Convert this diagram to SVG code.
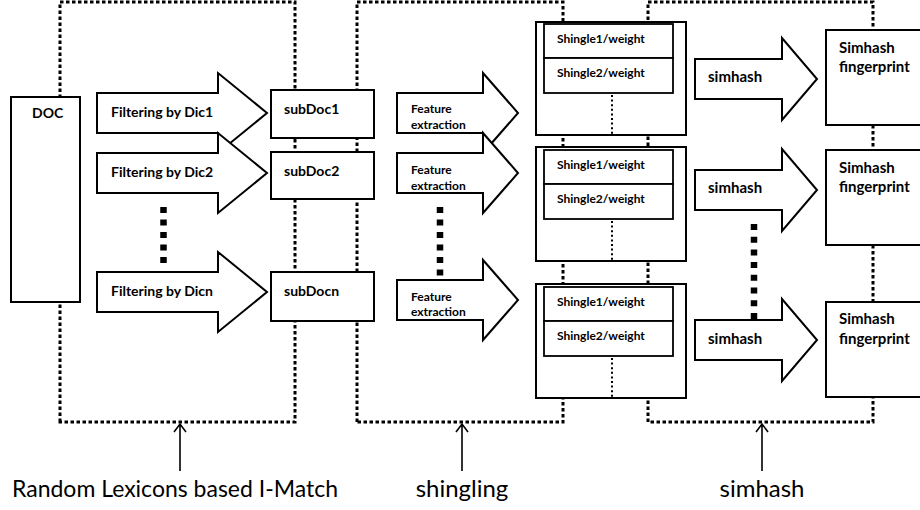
<svg xmlns="http://www.w3.org/2000/svg" width="920" height="510" viewBox="0 0 920 510">
<style>
  .frame{fill:none;stroke:#000;stroke-width:3;stroke-dasharray:3.5 2.5}
  .box{fill:#fff;stroke:#000;stroke-width:2}
  .inner{fill:#fff;stroke:#000;stroke-width:1.8}
  .arr{fill:#fff;stroke:#000;stroke-width:2;stroke-linejoin:miter}
  .idots{fill:none;stroke:#000;stroke-width:2;stroke-dasharray:2 2.6}
  .bigdots{fill:none;stroke:#000;stroke-width:6.5}
  .t{font-family:Lato,"Liberation Sans",sans-serif;font-weight:bold;fill:#000}
  .t14{font-size:14px}
  .t12{font-size:12px}
  .t15{font-size:15px}
  .lbl{font-family:Lato,"Liberation Sans",sans-serif;font-size:24px;fill:#000;text-anchor:middle}
  .conn{fill:none;stroke:#000;stroke-width:1.6}
</style>

<g id="frames">
  <path class="frame" d="M60,422 V2 H295 V422 Z"/>
  <path class="frame" d="M357,422 V2 H563 V422 Z"/>
  <path class="frame" d="M648,422 V2 H873 V422 Z"/>
</g>

<g id="doc">
  <rect class="box" x="11" y="97" width="69" height="205"/>
  <text class="t t14" x="32" y="118">DOC</text>
</g>

<g id="filter1">
  <polygon class="arr" points="97,93 218,93 218,73 267,113 218,153 218,133 97,133"/>
  <text class="t t14" x="111" y="116.5">Filtering by Dic1</text>
</g>
<g id="filter2">
  <polygon class="arr" points="97,153 218,153 218,133 267,173 218,213 218,193 97,193"/>
  <text class="t t14" x="111" y="176.5">Filtering by Dic2</text>
</g>
<g id="filter-dots">
  <line class="bigdots" x1="163.5" y1="207" x2="163.5" y2="263" stroke-dasharray="6 6.5"/>
</g>
<g id="filtern">
  <polygon class="arr" points="97,272 218,272 218,252 267,292 218,332 218,312 97,312"/>
  <text class="t t14" x="111" y="295.5">Filtering by Dicn</text>
</g>

<g id="subdoc1">
  <rect class="box" x="271" y="90" width="103" height="48"/>
  <text class="t t14" x="284" y="113.5">subDoc1</text>
</g>
<g id="subdoc2">
  <rect class="box" x="271" y="152" width="103" height="47"/>
  <text class="t t14" x="284" y="175.5">subDoc2</text>
</g>
<g id="subdocn">
  <rect class="box" x="271" y="272" width="103" height="49"/>
  <text class="t t14" x="284" y="296">subDocn</text>
</g>

<g id="feature1">
  <polygon class="arr" points="397,93 483,93 483,73 518,113 483,153 483,133 397,133"/>
  <text class="t t12" x="411" y="113">Feature</text>
  <text class="t t12" x="411" y="128.5">extraction</text>
</g>
<g id="feature2">
  <polygon class="arr" points="397,153 483,153 483,133 518,173 483,213 483,193 397,193"/>
  <text class="t t12" x="411" y="174">Feature</text>
  <text class="t t12" x="411" y="189.5">extraction</text>
</g>
<g id="feature-dots">
  <line class="bigdots" x1="440" y1="207" x2="440" y2="276" stroke-dasharray="6 6.5"/>
</g>
<g id="feature3">
  <polygon class="arr" points="397,280 483,280 483,260 518,300 483,340 483,320 397,320"/>
  <text class="t t12" x="411" y="300.5">Feature</text>
  <text class="t t12" x="411" y="316">extraction</text>
</g>

<g id="shingles1">
  <rect class="box" x="536" y="22" width="150" height="113"/>
  <rect class="inner" x="544" y="24" width="129" height="34"/>
  <rect class="inner" x="544" y="58" width="129" height="35"/>
  <line class="idots" x1="612" y1="95" x2="612" y2="135"/>
  <text class="t t12" x="557" y="42.5">Shingle1/weight</text>
  <text class="t t12" x="557" y="77">Shingle2/weight</text>
</g>
<g id="shingles2">
  <rect class="box" x="536" y="147" width="150" height="114"/>
  <rect class="inner" x="544" y="150" width="129" height="34"/>
  <rect class="inner" x="544" y="184" width="129" height="35"/>
  <line class="idots" x1="612" y1="221" x2="612" y2="261"/>
  <text class="t t12" x="557" y="168.5">Shingle1/weight</text>
  <text class="t t12" x="557" y="203">Shingle2/weight</text>
</g>
<g id="shingles3">
  <rect class="box" x="536" y="284" width="150" height="114"/>
  <rect class="inner" x="544" y="287" width="129" height="34"/>
  <rect class="inner" x="544" y="321" width="129" height="35"/>
  <line class="idots" x1="612" y1="358" x2="612" y2="398"/>
  <text class="t t12" x="557" y="305.5">Shingle1/weight</text>
  <text class="t t12" x="557" y="340">Shingle2/weight</text>
</g>

<g id="simhash1">
  <polygon class="arr" points="695,59 782,59 782,38 817,79 782,120 782,99 695,99"/>
  <text class="t t15" x="708" y="82">simhash</text>
</g>
<g id="simhash2">
  <polygon class="arr" points="695,170 782,170 782,149 817,190 782,231 782,210 695,210"/>
  <text class="t t15" x="708" y="193">simhash</text>
</g>
<g id="simhash-dots">
  <line class="bigdots" x1="754" y1="224" x2="754" y2="320" stroke-dasharray="6 6.7"/>
</g>
<g id="simhash3">
  <polygon class="arr" points="695,320 782,320 782,299 817,340 782,381 782,360 695,360"/>
  <text class="t t15" x="708" y="343.5">simhash</text>
</g>

<g id="fingerprint1">
  <rect class="box" x="826" y="30" width="110" height="95"/>
  <text class="t t15" x="839" y="52.5">Simhash</text>
  <text class="t t15" x="839" y="72">fingerprint</text>
</g>
<g id="fingerprint2">
  <rect class="box" x="826" y="150" width="110" height="95"/>
  <text class="t t15" x="839" y="172.5">Simhash</text>
  <text class="t t15" x="839" y="192">fingerprint</text>
</g>
<g id="fingerprint3">
  <rect class="box" x="826" y="302" width="110" height="95"/>
  <text class="t t15" x="839" y="324">Simhash</text>
  <text class="t t15" x="839" y="343.5">fingerprint</text>
</g>

<g id="connectors">
  <path class="conn" d="M180,471 V424 M174,432 L180,424 L186,432"/>
  <path class="conn" d="M462,471 V424 M456,432 L462,424 L468,432"/>
  <path class="conn" d="M762,471 V424 M756,432 L762,424 L768,432"/>
</g>

<g id="labels">
  <text class="lbl" x="175" y="497" textLength="326" lengthAdjust="spacingAndGlyphs">Random Lexicons based I-Match</text>
  <text class="lbl" x="462" y="497">shingling</text>
  <text class="lbl" x="762" y="497">simhash</text>
</g>
</svg>
